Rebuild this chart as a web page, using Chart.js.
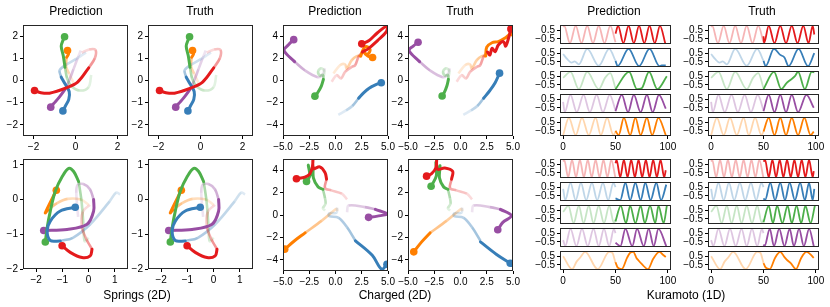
<!DOCTYPE html>
<html>
<head>
<meta charset="utf-8">
<script src="https://cdn.jsdelivr.net/npm/chart.js@4.4.0/dist/chart.umd.min.js"></script>
<style>
body{margin:0;background:#fff;width:830px;height:307px;position:relative;overflow:hidden;font-family:"Liberation Sans",Arial,sans-serif}
canvas{position:absolute}
.t{position:absolute;font-size:12px;line-height:14px;transform:translateX(-50%);white-space:nowrap;color:#000}
</style>
</head>
<body>
<script>
// series order in every panel: red, blue, green, purple, orange
const seriesColors = ['228,26,28', '55,126,184', '77,175,74', '152,78,163', '255,127,0'];

// ---- Springs (2D): observed part (faded) and rollout part (solid) ----
const springsTopObs = [
  [[0.3,1.25],[0.65,1.4],[0.95,1.38],[0.92,1.0],[0.63,0.57]],
  [[0.5,1.27],[0.03,0.97],[-0.52,0.67],[-0.76,0.45],[-0.68,0.15]],
  [[0.75,0.25],[0.62,-0.3],[0.2,-0.45],[-0.2,-0.25],[-0.4,0.1],[-0.5,0.6]],
  [[0.25,1.35],[0.1,1.0],[-0.1,0.5],[-0.3,0.0],[-0.5,-0.4]],
  [[-0.1,-0.1],[-0.3,0.3],[-0.45,0.65],[-0.42,1.05]]
];
const springsTopRollout = [
  [[0.63,0.57],[0.1,-0.07],[-0.44,-0.33],[-1.24,-0.57],[-1.65,-0.55],[-1.95,-0.45]],
  [[-0.68,0.15],[-0.5,-0.15],[-0.3,-0.5],[-0.32,-0.85],[-0.48,-1.15],[-0.6,-1.37]],
  [[-0.5,0.6],[-0.58,1.1],[-0.68,1.55],[-0.6,1.8],[-0.52,1.97]],
  [[-0.5,-0.4],[-0.8,-0.78],[-1.05,-1.05],[-1.18,-1.2]],
  [[-0.42,1.05],[-0.33,1.2],[-0.38,1.35]]
];
const springsBotObs = [
  [[0.05,-0.15],[-0.22,-0.35],[-0.25,-0.8],[-0.08,-1.15],[0.13,-1.43]],
  [[1.2,0.15],[1.05,0.2],[0.8,-0.05],[0.06,-0.71],[-0.6,-1.1],[-1.08,-1.19]],
  [[0.0,-1.1],[-0.15,-1.2],[-0.2,-0.7],[-0.27,-0.05],[-0.38,0.52]],
  [[-0.4,-0.5],[-0.47,0.2],[-0.42,0.42],[-0.2,0.45],[0.05,0.3],[0.19,0.0]],
  [[0.0,-0.15],[-0.3,0.0],[-0.8,0.02],[-1.2,-0.1],[-1.55,-0.3]]
];
const springsBotRollout = [
  [[0.13,-1.43],[0.06,-1.62],[-0.25,-1.67],[-0.7,-1.52],[-1.01,-1.33]],
  [[-1.08,-1.19],[-1.46,-1.18],[-1.58,-0.9],[-1.46,-0.62],[-1.08,-0.33],[-0.51,-0.22]],
  [[-0.38,0.52],[-0.57,0.81],[-0.76,0.9],[-1.0,0.67],[-1.27,0.24],[-1.46,-0.33],[-1.58,-0.81],[-1.65,-1.22]],
  [[0.19,0.0],[0.19,-0.33],[-0.06,-0.71],[-0.82,-0.86],[-1.71,-0.89]],
  [[-1.55,-0.3],[-1.65,-0.38],[-1.23,0.27]]
];

// ---- Charged (2D) ----
const chargedTopObs = [
  [[-0.37,-0.12],[0.11,0.48],[0.53,0.18],[0.91,0.78],[1.55,1.23],[1.87,1.38],[2.19,2.13],[2.57,2.57]],
  [[0.27,-3.1],[1.0,-2.7],[1.6,-2.3],[2.2,-1.6]],
  [[-1.15,0.3],[-1.05,0.8],[-1.35,1.1],[-1.65,0.85],[-1.5,0.45],[-1.2,0.5],[-1.15,0.1]],
  [[-1.0,1.1],[-1.25,0.5],[-1.7,0.3],[-2.9,0.9],[-3.9,1.7]],
  [[-0.2,0.63],[0.43,1.38],[0.91,1.45],[1.07,1.08],[1.55,1.83],[2.03,2.2],[2.4,2.2]]
];
const chargedTopPred = [
  [[2.57,2.57],[3.1,2.85],[4.0,3.6],[4.85,4.4],[4.9,4.9],[4.0,4.3],[3.2,3.6],[2.5,3.3]],
  [[2.2,-1.6],[2.7,-1.1],[3.2,-0.7],[3.8,-0.4],[4.36,-0.2]],
  [[-1.15,0.1],[-1.35,-0.5],[-1.7,-1.1],[-1.96,-1.41]],
  [[-3.9,1.7],[-4.9,2.7],[-4.5,3.2],[-3.98,3.68]],
  [[2.4,2.2],[2.7,2.9],[3.0,3.05],[3.3,2.75],[3.05,2.35],[2.75,2.5],[3.1,2.2],[3.53,2.07]]
];
const chargedTopTruth = [
  [[2.57,2.57],[2.8,2.3],[3.0,2.9],[3.3,2.6],[3.6,3.2],[4.1,3.5],[4.3,3.1],[4.6,3.9],[4.8,4.65]],
  [[2.2,-1.6],[2.8,-0.9],[3.3,-0.2],[3.72,0.66]],
  [[-1.15,0.1],[-1.3,-0.5],[-1.55,-1.1],[-1.75,-1.39]],
  [[-3.9,1.7],[-4.9,2.7],[-4.5,3.1],[-4.04,3.44]],
  [[2.4,2.2],[2.5,3.0],[3.0,3.4],[3.6,3.5],[4.2,3.8],[4.6,4.1],[4.95,4.3]]
];
const chargedBotObs = [
  [[1.1,1.4],[0.6,1.9],[-0.4,2.2],[-1.0,2.4],[-0.85,3.2]],
  [[0.15,0.65],[0.1,0.2],[-0.6,0.15],[-0.6,-0.1],[0.3,-0.25],[1.1,-1.1],[1.9,-2.3]],
  [[-1.0,0.4],[-1.2,0.6],[-0.95,1.0],[-1.0,1.5],[-1.2,2.3]],
  [[1.1,0.25],[1.25,0.85],[2.8,0.7],[3.8,0.5]],
  [[0.2,0.35],[0.1,0.55],[-0.4,0.2],[-1.3,-0.5],[-2.9,-1.6]]
];
const chargedBotPred = [
  [[-0.85,3.2],[-1.0,3.8],[-1.5,4.3],[-2.1,4.15],[-2.12,5.4],[-2.2,4.3],[-2.44,3.68],[-2.92,3.38],[-3.72,3.23]],
  [[1.9,-2.3],[3.5,-3.6],[4.4,-4.85],[4.9,-4.4]],
  [[-1.2,2.3],[-1.65,2.5],[-2.1,3.3],[-2.15,4.3],[-2.35,3.6],[-2.6,4.45],[-2.45,3.5],[-2.76,3.0]],
  [[3.8,0.5],[4.9,0.1],[4.0,-0.1],[3.15,-0.21]],
  [[-2.9,-1.6],[-3.9,-2.3],[-4.84,-3.05]]
];
const chargedBotTruth = [
  [[-0.85,3.2],[-0.75,3.9],[-1.5,4.2],[-2.2,4.1],[-2.25,5.4],[-2.35,4.2],[-2.75,3.7],[-3.23,3.47]],
  [[1.9,-2.4],[3.4,-3.5],[4.74,-4.31]],
  [[-1.2,2.3],[-1.6,2.5],[-2.0,3.3],[-1.95,4.4],[-2.2,3.7],[-2.35,4.7],[-2.3,3.5],[-2.8,2.57]],
  [[3.8,0.5],[4.84,-0.06],[4.03,-0.66],[3.55,-1.32]],
  [[-2.9,-1.6],[-3.7,-2.4],[-4.45,-3.29]]
];

// ---- Kuramoto (1D): turning points [t, value] ----
const kuraTopObs = [
  [[0,0.9],[1,1],[6.5,-1],[12,1],[17.5,-1],[23,1],[28.5,-1],[34,1],[39.5,-1],[45,1],[50,-0.9]],
  [[0,0.4],[4,-0.2],[8,-0.6],[11,-0.45],[15,-0.8],[23,1],[34,-0.95],[44,1],[50,-0.4]],
  [[0,0.3],[7,1],[15,-1],[23,1],[34,-1],[40,0.3],[45,0.85],[50,-0.9]],
  [[0,0.2],[1.5,-1],[7,1],[13,-1],[19.5,1],[25.5,-1],[32,1],[38,-1],[44.5,1],[50,-0.8]],
  [[0,-1],[5.5,1],[12,-1],[18,1],[24.5,-1],[31,1],[36,-1],[42,1],[48,-1],[50,-0.6]]
];
const kuraTopPred = [
  [[50,0.1],[52.5,1],[57.5,-1],[62.5,1],[67.5,-1],[72.5,1],[77.5,-1],[82.5,1],[87.5,-1],[92.5,1],[97.5,-1]],
  [[50,-0.4],[52,-1],[62.5,1],[72.5,-1],[82.5,1],[92,-1],[94,-0.92],[98,-0.92]],
  [[50,-1],[63,1],[70.5,-1],[75,-0.9],[82,1],[90,-1],[99,0.5]],
  [[50,-0.9],[56,1],[62,-1],[67.5,1],[74,-1],[80,1],[85.5,-1],[91.5,1],[98,-0.6]],
  [[50,-0.5],[53,-1],[58,1],[64,-1],[69,1],[74,-1],[80,1],[85,-1],[91,1],[98,-1]]
];
const kuraTopTruth = [
  [[50,-0.2],[50.5,-1],[55,1],[60.5,-1],[66,1],[71.5,-1],[77,1],[82.5,-1],[88,1],[93,-1],[97,1],[98.5,0]],
  [[50,-0.4],[52,-1],[60,1],[66,0.3],[70,0.0],[74,-1],[83.5,1],[92.5,-1],[98.5,0.5]],
  [[50,-1],[60,1],[67,-1],[72,-0.3],[75,0],[80,0.5],[83,1],[89.5,-1],[96,1],[98.5,0.95]],
  [[50,-0.9],[55,1],[60.5,-1],[66,1],[71.5,-1],[77,1],[83,-1],[91,1],[98,-0.5]],
  [[50,-0.6],[55,1],[60.5,-1],[66,1],[71.5,-1],[77,1],[83,-1],[89,1],[95,-1],[98,-0.6]]
];
const kuraBotObs = [
  [[0,0.8],[1,1],[4.8,-1],[8.5,1],[12.3,-1],[16,1],[19.8,-1],[23.5,1],[27.3,-1],[31,1],[34.8,-1],[38.5,1],[42.3,-1],[46,1],[49.8,-1]],
  [[0,0.3],[2,-1],[7,1],[12,-1],[17,1],[22,-1],[27.5,1],[32.5,-1],[38,1],[43,-1],[48,1],[50,0.5]],
  [[0,0.3],[5,1],[10,-1],[15,1],[19.5,-1],[24.5,1],[29,-1],[34,1],[39,-1],[44,1],[48.5,-1],[50,-0.6]],
  [[0,-0.3],[2,-1],[7,1],[12.7,-1],[18,1],[23.5,-1],[29,1],[34,-1],[39,1],[44,-1],[48.5,1],[50,0.5]],
  [[0,0.5],[8.5,-1],[13,-0.1],[16,0.3],[21,1],[33,-1],[44,1],[47,0.9],[50,-0.3]]
];
const kuraBotPred = [
  [[50,0.6],[51,1],[54.5,-1],[58,1],[61.5,-1],[65,1],[68.5,-1],[72,1],[75.5,-1],[79,1],[82.5,-1],[86,1],[89.5,-1],[93,1],[96.5,-1],[98,-0.2]],
  [[50,-0.8],[54.5,-1],[59.5,1],[64,-1],[69,1],[74,-1],[78.5,1],[83.5,-1],[89,1],[93.5,-1],[98.5,0.8]],
  [[50,-0.8],[55,1],[60,-1],[64,1],[69,-1],[74,1],[78,-1],[83,1],[88,-1],[91,1],[96,-1],[99,1]],
  [[50,-0.6],[54.7,-1],[59.5,1],[66,-1],[70.6,1],[77,-1],[81.7,1],[86.5,-1],[91,1],[98.5,-1]],
  [[50,-0.2],[52,-0.8],[56,-1],[61,0.3],[64,0.9],[67,1],[70,0.3],[72,0],[75,-0.4],[81,-1],[86,0.2],[92,1],[95,0.7],[98,0.4]]
];
const kuraBotTruth = [
  [[50,0.8],[51.5,1],[55,-1],[58.5,1],[62,-1],[65.5,1],[69,-1],[72.5,1],[76,-1],[79.5,1],[83,-1],[86.5,1],[90,-1],[93.5,1],[97,-1],[98,-0.3]],
  [[50,-0.8],[51.5,-1],[56.5,1],[61,-1],[66,1],[70.5,-1],[75,1],[80,-1],[85,1],[89.5,-1],[93.5,1],[97,-1],[98.5,0.3]],
  [[50,-0.9],[55,1],[59,-1],[63,1],[68,-1],[73,1],[77,-1],[81.6,1],[86,-1],[90,1],[95,-1],[99,1]],
  [[50,-0.8],[51,-1],[56,1],[60,-1],[65,1],[70,-1],[75,1],[79,-1],[84,1],[88.5,-1],[93.6,1],[98,-1]],
  [[50,-0.3],[52,-0.8],[56,-1],[61,0.3],[66,1],[70,0.4],[73,0],[76,-0.3],[81,-1],[86,0.3],[91,1],[94,0.8],[98,0.3]]
];

// tick labels
const springsTopTicks = [-2, 0, 2];
const springsTopYTicks = [-2, -1, 0, 1, 2];
const springsBotXTicks = [-2, -1, 0, 1];
const springsBotYTicks = [-2, -1, 0, 1];
const chargedXTicks = [-5, -2.5, 0, 2.5, 5];
const chargedYTicks = [-4, -2, 0, 2, 4];
const kuraXTicks = [0, 50, 100];
const kuraYTicks = [-0.5, 0.5];

const L = 34, P = 12, B = 17;
const tickFont = { family: 'Liberation Sans', size: 10 };

function fmt(v, d) {
  return (d ? v.toFixed(d) : String(v)).replace('-', '\u2212');
}
const pts = arr => arr.map(p => ({ x: p[0], y: p[1] }));

const frame = {
  id: 'frame',
  afterDraw(c) {
    const a = c.chartArea, ctx = c.ctx;
    ctx.save();
    ctx.strokeStyle = '#262626';
    ctx.lineWidth = 1;
    ctx.strokeRect(Math.round(a.left) + 0.5, Math.round(a.top) + 0.5, Math.round(a.width) - 1, Math.round(a.height) - 1);
    ctx.restore();
  }
};

function panel(o) {
  const showX = !!o.xticks;
  const cv = document.createElement('canvas');
  cv.width = L + o.w + P;
  cv.height = P + o.h + (showX ? B : P);
  cv.style.left = (o.left - L) + 'px';
  cv.style.top = (o.top - P) + 'px';
  document.body.appendChild(cv);
  const axis = (ticks, d, fit) => ({
    type: 'linear',
    afterBuildTicks: s => { s.ticks = ticks.map(v => ({ value: v })); },
    afterFit: fit,
    ticks: { font: tickFont, color: '#000', padding: 2, maxRotation: 0, autoSkip: false, callback: v => fmt(v, d) },
    grid: { drawOnChartArea: false, drawTicks: true, tickLength: 3, color: '#000' },
    border: { display: false }
  });
  const xs = axis(o.xticks || [], o.xd, s => { s.height = showX ? B : 0; });
  xs.min = o.xr[0]; xs.max = o.xr[1]; xs.display = showX;
  const ys = axis(o.yticks, o.yd, s => { s.width = L; });
  ys.min = o.yr[0]; ys.max = o.yr[1];
  new Chart(cv, {
    type: 'scatter',
    data: { datasets: o.datasets },
    options: {
      responsive: false, animation: false, devicePixelRatio: 1,
      layout: { padding: { left: 0, right: P, top: P, bottom: showX ? 0 : P } },
      plugins: { legend: { display: false }, tooltip: { enabled: false } },
      scales: { x: xs, y: ys }
    },
    plugins: [frame]
  });
}

function trajSets(obs, fin) {
  const out = [];
  seriesColors.forEach((c, i) => {
    const d = pts(fin[i]);
    out.push({
      data: d, showLine: true, borderColor: `rgb(${c})`, borderWidth: 3, tension: 0.35,
      borderCapStyle: 'round', borderJoinStyle: 'round', order: 0,
      pointRadius: ctx => ctx.dataIndex === d.length - 1 ? 3.8 : 0,
      pointBackgroundColor: `rgb(${c})`, pointBorderWidth: 0, pointHoverRadius: 0
    });
  });
  seriesColors.forEach((c, i) => {
    const d = pts(obs[i]);
    const n = Math.max(d.length - 2, 1);
    out.push({
      data: d, showLine: true, borderWidth: 2.6, tension: 0.35, order: 1, pointRadius: 0,
      borderColor: `rgba(${c},0.3)`,
      segment: { borderColor: ctx => `rgba(${c},${(0.16 + 0.3 * ctx.p0DataIndex / n).toFixed(3)})` }
    });
  });
  return out;
}

function kuraColumn(left, top, obs, fin) {
  seriesColors.forEach((c, i) => {
    panel({
      left: left, top: top + i * 23, w: 111, h: 19,
      xr: [-3, 103], yr: [-1.1, 1.1],
      xticks: i === 4 ? kuraXTicks : null, yticks: kuraYTicks, yd: 1,
      datasets: [
        { data: pts(fin[i]), showLine: true, borderColor: `rgb(${c})`, borderWidth: 1.8, cubicInterpolationMode: 'monotone', pointRadius: 0, order: 0 },
        { data: pts(obs[i]), showLine: true, borderColor: `rgba(${c},0.32)`, borderWidth: 1.8, cubicInterpolationMode: 'monotone', pointRadius: 0, order: 1 }
      ]
    });
  });
}

// Springs
panel({ left: 23, top: 25, w: 105, h: 111, xr: [-2.5, 2.5], yr: [-2.5, 2.5], xticks: springsTopTicks, yticks: springsTopYTicks, datasets: trajSets(springsTopObs, springsTopRollout) });
panel({ left: 148, top: 25, w: 105, h: 111, xr: [-2.5, 2.5], yr: [-2.5, 2.5], xticks: springsTopTicks, yticks: springsTopYTicks, datasets: trajSets(springsTopObs, springsTopRollout) });
panel({ left: 23, top: 159, w: 105, h: 110, xr: [-2.5, 1.5], yr: [-2, 1.17], xticks: springsBotXTicks, yticks: springsBotYTicks, datasets: trajSets(springsBotObs, springsBotRollout) });
panel({ left: 148, top: 159, w: 105, h: 110, xr: [-2.5, 1.5], yr: [-2, 1.17], xticks: springsBotXTicks, yticks: springsBotYTicks, datasets: trajSets(springsBotObs, springsBotRollout) });

// Charged
panel({ left: 283, top: 25, w: 105, h: 111, xr: [-5, 5], yr: [-5, 5], xticks: chargedXTicks, xd: 1, yticks: chargedYTicks, datasets: trajSets(chargedTopObs, chargedTopPred) });
panel({ left: 408, top: 25, w: 105, h: 111, xr: [-5, 5], yr: [-5, 5], xticks: chargedXTicks, xd: 1, yticks: chargedYTicks, datasets: trajSets(chargedTopObs, chargedTopTruth) });
panel({ left: 283, top: 159, w: 105, h: 112, xr: [-5, 5], yr: [-5, 5], xticks: chargedXTicks, xd: 1, yticks: chargedYTicks, datasets: trajSets(chargedBotObs, chargedBotPred) });
panel({ left: 408, top: 159, w: 105, h: 112, xr: [-5, 5], yr: [-5, 5], xticks: chargedXTicks, xd: 1, yticks: chargedYTicks, datasets: trajSets(chargedBotObs, chargedBotTruth) });

// Kuramoto
kuraColumn(560, 25, kuraTopObs, kuraTopPred);
kuraColumn(708, 25, kuraTopObs, kuraTopTruth);
kuraColumn(560, 159, kuraBotObs, kuraBotPred);
kuraColumn(708, 159, kuraBotObs, kuraBotTruth);

// titles and captions
const labels = [
  ['Prediction', 76, 4], ['Truth', 200, 4], ['Prediction', 335, 4], ['Truth', 460, 4],
  ['Prediction', 614, 4], ['Truth', 762, 4],
  ['Springs (2D)', 137, 288], ['Charged (2D)', 395, 288], ['Kuramoto (1D)', 686, 288]
];
labels.forEach(([txt, x, y]) => {
  const d = document.createElement('div');
  d.className = 't';
  d.textContent = txt;
  d.style.left = x + 'px';
  d.style.top = y + 'px';
  document.body.appendChild(d);
});
</script>
</body>
</html>
